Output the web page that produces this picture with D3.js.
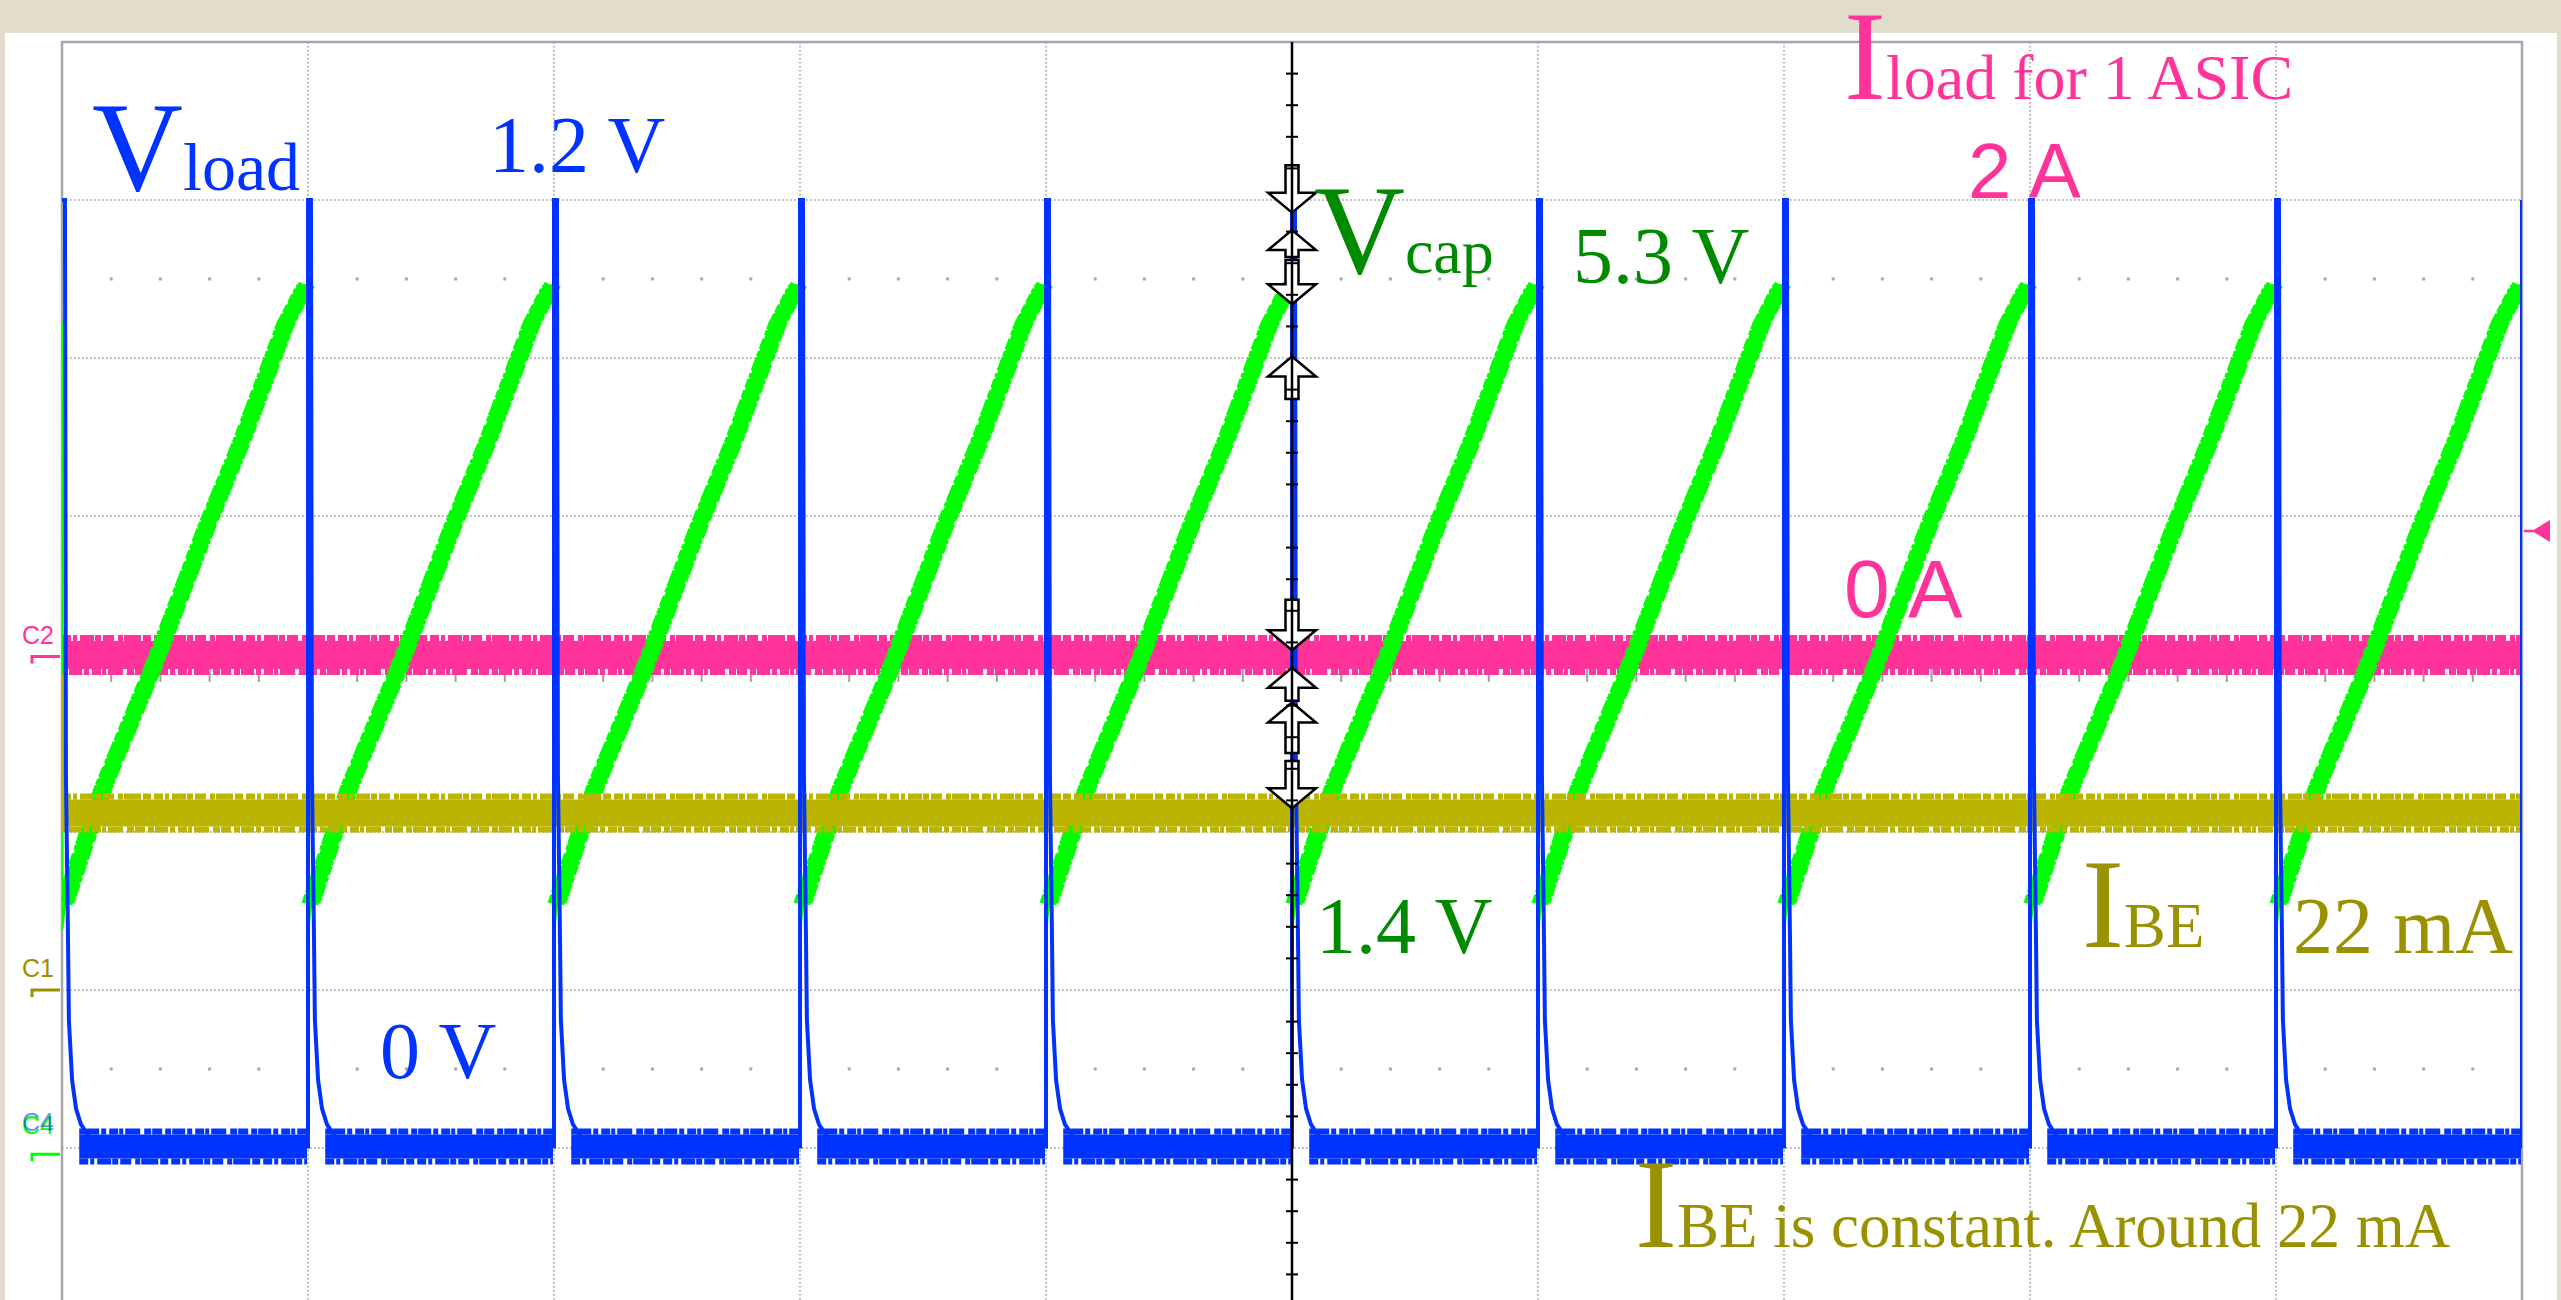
<!DOCTYPE html>
<html>
<head>
<meta charset="utf-8">
<script src="https://cdn.jsdelivr.net/npm/d3@7"></script>
<style>
  html, body { margin: 0; padding: 0; background: #e1dccb; overflow: hidden; }
</style>
</head>
<body>
<div id="scope"></div>
<script>
var edges = [0, 1, 2, 3, 4, 5, 6, 7, 8, 9, 10];          // switching instants
var vloadHigh = 3.0;                                      // 1.2 V
var vloadLow = -2.99;                                     // 0 V
var vloadDecay = [[0, 3.0], [0.012, 3.0], [0.016, -0.65], [0.024, -1.62], [0.028, -2.19],
                  [0.041, -2.57], [0.057, -2.75], [0.077, -2.85], [0.106, -2.92], [0.13, -2.99]];
var vcapRamp = [[0.012, -1.45], [0.17, -0.71], [0.37, 0.04], [0.59, 0.94], [0.73, 1.47], [0.91, 2.22], [0.99, 2.46]];
var vcapLow = -1.62;                                      // 1.4 V
var vcapStart = 2.23;
var vcapEnd = 2.22;
var iloadLevel = 0.12;                                    // 0 A
var ibeLevel = -0.88;                                     // 22 mA
var ibeSpikeTop = 0.0;
var arrowDirs = ["down", "up", "down", "up", "down", "up", "up", "down"];
var arrowTips = [2.92, 2.81, 2.34, 2.01, 0.15, 0.04, -0.18, -0.85];
var arrowLens = [0.30, 0.17, 0.28, 0.27, 0.32, 0.21, 0.32, 0.30];
var chanNames = ["C2", "C1", "C4"];
var chanLevels = [0.11, -2.0, -3.04];
var trigLevel = 0.905;

var blue = "#0033ff", green = "#00ff00", dkgreen = "#008a00", pink = "#ff3399",
    olive = "#bbb400", dkolive = "#999100";
var serif = "'Liberation Serif', 'Times New Roman', serif";
var sans = "'Liberation Sans', Arial, sans-serif";

var W = 2561, H = 1300;
var svg = d3.select("#scope").append("svg").attr("width", W).attr("height", H);

var x = d3.scaleLinear().domain([0, 10]).range([62, 2522]);
var y = d3.scaleLinear().domain([4, -4]).range([42, 1306]);

// white capture panel
svg.append("rect").attr("x", 5).attr("y", 33).attr("width", 2552).attr("height", H).attr("fill", "#fff");

svg.append("clipPath").attr("id", "plot")
  .append("rect").attr("x", x(0)).attr("y", y(4)).attr("width", x(10) - x(0)).attr("height", y(-4) - y(4));

// grid
var grid = svg.append("g").attr("stroke", "#9c9c9c").attr("stroke-width", 1.6).attr("stroke-dasharray", "1.6 2.4");
grid.selectAll(".gx").data(d3.range(1, 10).filter(function(d) { return d != 5; })).enter()
  .append("line")
  .attr("x1", function(d) { return x(d); }).attr("x2", function(d) { return x(d); })
  .attr("y1", y(4)).attr("y2", y(-4));
grid.selectAll(".gy").data(d3.range(-3, 4)).enter()
  .append("line")
  .attr("x1", x(0)).attr("x2", x(10))
  .attr("y1", function(d) { return y(d); }).attr("y2", function(d) { return y(d); });

// minor dots on the two half-division rows
var minor = d3.range(0, 50).map(function(i) { return i / 5; }).filter(function(d) { return Math.abs(d - Math.round(d)) > 0.01; });
[2.5, -2.5].forEach(function(r) {
  svg.append("g").selectAll("rect").data(minor).enter().append("rect")
    .attr("x", function(d) { return x(d) - 1.5; }).attr("y", y(r) - 1.5)
    .attr("width", 3).attr("height", 3).attr("fill", "#a8a8a8");
});

// ticks on the horizontal centre line
svg.append("g").selectAll("line").data(minor).enter().append("line")
  .attr("x1", function(d) { return x(d); }).attr("x2", function(d) { return x(d); })
  .attr("y1", y(0) - 8).attr("y2", y(0) + 8)
  .attr("stroke", "#a0a0a0").attr("stroke-width", 2);

// plot border
svg.append("rect").attr("x", x(0)).attr("y", y(4)).attr("width", x(10) - x(0)).attr("height", y(-4) - y(4))
  .attr("fill", "none").attr("stroke", "#a6a6a6").attr("stroke-width", 2.5);

var traces = svg.append("g").attr("clip-path", "url(#plot)");
// edge roughness: long dashes with small notches
var noiseA = "9 2 4 3 14 1 6 2 11 4 5 1 17 2 8 3";
var noiseB = "6 1 13 2 5 3 9 1 4 2 15 4 7 1 10 3";

function band(level, color, width) {
  var g = traces.append("g");
  g.append("line").attr("x1", x(0)).attr("x2", x(10)).attr("y1", y(level)).attr("y2", y(level))
    .attr("stroke", color).attr("stroke-width", width);
  [[-1, noiseA], [1, noiseB]].forEach(function(s) {
    g.append("line").attr("x1", x(0)).attr("x2", x(10))
      .attr("y1", y(level) + s[0] * (width / 2 + 3)).attr("y2", y(level) + s[0] * (width / 2 + 3))
      .attr("stroke", color).attr("stroke-width", 6).attr("stroke-dasharray", s[1]);
  });
  return g;
}

// Iload (pink)
band(iloadLevel, pink, 28);

// Vcap (green): thin drops + thick noisy ramps
var line = d3.line().x(function(d) { return x(d[0]); }).y(function(d) { return y(d[1]); });
var capPts = [[0, vcapStart], [0, vcapLow]];
edges.slice(0, -1).forEach(function(e) {
  if (e > 0) { capPts.push([e, vcapRamp[vcapRamp.length - 1][1]]); capPts.push([e, vcapLow]); }
  vcapRamp.forEach(function(p) { capPts.push([e + p[0], p[1]]); });
});
capPts.push([edges[edges.length - 1], vcapRamp[vcapRamp.length - 1][1]]);
capPts.push([edges[edges.length - 1], vcapEnd]);
traces.append("path").attr("d", line(capPts)).attr("fill", "none").attr("stroke", green).attr("stroke-width", 2.5);
edges.slice(0, -1).forEach(function(e) {
  var r = vcapRamp.map(function(p) { return [e + p[0], p[1]]; });
  traces.append("path").attr("d", line(r)).attr("fill", "none").attr("stroke", green).attr("stroke-width", 15);
  [[-7.5, noiseA], [7.5, noiseB]].forEach(function(s) {
    traces.append("path").attr("d", line(r)).attr("transform", "translate(" + s[0] + ",0)")
      .attr("fill", "none").attr("stroke", green).attr("stroke-width", 4).attr("stroke-dasharray", s[1]);
  });
});

// IBE (olive)
var ibe = band(ibeLevel, olive, 27);
ibe.selectAll(".sp").data(edges.slice(0, -1)).enter().append("line")
  .attr("x1", function(d) { return x(d) + 1; }).attr("x2", function(d) { return x(d) + 1; })
  .attr("y1", y(ibeLevel)).attr("y2", y(ibeSpikeTop))
  .attr("stroke", olive).attr("stroke-width", 2.5);

// Vload (blue)
var loadPts = [];
edges.forEach(function(e, i) {
  if (i > 0) loadPts.push([e, vloadLow]);
  if (i < edges.length - 1) vloadDecay.forEach(function(p) { loadPts.push([e + p[0], p[1]]); });
  else loadPts.push([e, vloadHigh]);
});
traces.append("path").attr("d", line(loadPts)).attr("fill", "none").attr("stroke", blue).attr("stroke-width", 4);
edges.slice(0, -1).forEach(function(e) {
  var x0 = x(e + 0.07), x1 = x(e + 1) - 1;
  traces.append("line").attr("x1", x0).attr("x2", x1).attr("y1", y(vloadLow)).attr("y2", y(vloadLow))
    .attr("stroke", blue).attr("stroke-width", 24);
  [[-1, noiseB], [1, noiseA]].forEach(function(s) {
    traces.append("line").attr("x1", x0).attr("x2", x1)
      .attr("y1", y(vloadLow) + s[0] * 15).attr("y2", y(vloadLow) + s[0] * 15)
      .attr("stroke", blue).attr("stroke-width", 6).attr("stroke-dasharray", s[1]);
  });
});

// channel offset arrows on the centre axis
var cx = x(5);
svg.append("g").selectAll("path").data(arrowTips).enter().append("path")
  .attr("d", function(t, i) {
    var tip = y(t), s = arrowDirs[i] == "down" ? -1 : 1;
    var end = y(t) + s * (y(0) - y(arrowLens[i]));
    var base = tip + s * 20;
    return "M" + (cx - 6.5) + "," + end + "L" + (cx + 6.5) + "," + end + "L" + (cx + 6.5) + "," + base +
      "L" + (cx + 24) + "," + base + "L" + cx + "," + tip + "L" + (cx - 24) + "," + base +
      "L" + (cx - 6.5) + "," + base + "Z";
  })
  .attr("fill", "#fff").attr("stroke", "#000").attr("stroke-width", 2.5);

// vertical centre axis with ticks
svg.append("line").attr("x1", cx).attr("x2", cx).attr("y1", y(4)).attr("y2", y(-4))
  .attr("stroke", "#000").attr("stroke-width", 2.5);
svg.append("g").selectAll("line").data(d3.range(-20, 21).map(function(i) { return i / 5; }).filter(function(d) { return d % 1 != 0; }))
  .enter().append("line")
  .attr("x1", cx - 6).attr("x2", cx + 6)
  .attr("y1", function(d) { return y(d); }).attr("y2", function(d) { return y(d); })
  .attr("stroke", "#000").attr("stroke-width", 2);

// channel ground markers on the left
var chanColors = [pink, dkolive, green];
chanNames.forEach(function(n, i) {
  var yy = y(chanLevels[i]);
  svg.append("path").attr("d", "M32," + (yy + 7) + "V" + yy + "H60")
    .attr("fill", "none").attr("stroke", chanColors[i]).attr("stroke-width", 3);
  if (n == "C4") {
    svg.append("text").attr("x", 22).attr("y", yy - 20).text(n)
      .style("font-family", sans).style("font-size", "25px").style("fill", green);
    svg.append("text").attr("x", 22).attr("y", yy - 23).text(n)
      .style("font-family", sans).style("font-size", "25px").style("fill", blue).style("opacity", 0.55);
  } else {
    svg.append("text").attr("x", 22).attr("y", yy - 13).text(n)
      .style("font-family", sans).style("font-size", "25px").style("fill", chanColors[i]);
  }
});

// trigger marker on the right
var ty = y(trigLevel);
svg.append("path").attr("d", "M" + (x(10) + 2) + "," + ty + "H" + (x(10) + 12))
  .attr("stroke", pink).attr("stroke-width", 2.5);
svg.append("path").attr("d", "M" + (x(10) + 10) + "," + ty + "L" + (x(10) + 28) + "," + (ty - 11) + "V" + (ty + 11) + "Z")
  .attr("fill", pink);

// annotations: [x div, baseline div, big letter, rest, color, big size, rest size, family]
var labels = [
  [0.122, 3.063, "V", "load", blue, 126, 68, serif],
  [1.736, 3.177, "", "1.2 V", blue, 0, 80, serif],
  [5.089, 2.538, "V", "cap", dkgreen, 126, 64, serif],
  [6.142, 2.475, "", "5.3 V", dkgreen, 0, 80, serif],
  [7.244, 3.64, "I", "load for 1 ASIC", pink, 126, 64, serif],
  [7.748, 3.013, "", "2 A", pink, 0, 78, sans],
  [7.244, 0.361, "", "0 A", pink, 0, 82, sans],
  [5.098, -1.766, "", "1.4 V", dkgreen, 0, 80, serif],
  [1.293, -2.557, "", "0 V", blue, 0, 80, serif],
  [8.211, -1.728, "I", "BE", dkolive, 126, 63, serif],
  [9.069, -1.766, "", "22 mA", dkolive, 0, 80, serif],
  [6.394, -3.627, "I", "BE is constant. Around 22 mA", dkolive, 126, 63, serif]
];
labels.forEach(function(l) {
  var t = svg.append("text").attr("x", x(l[0])).attr("y", y(l[1]))
    .style("font-family", l[7]).style("fill", l[4]);
  if (l[2]) t.append("tspan").style("font-size", l[5] + "px").text(l[2]);
  t.append("tspan").style("font-size", l[6] + "px").text(l[3]);
});
</script>
</body>
</html>
